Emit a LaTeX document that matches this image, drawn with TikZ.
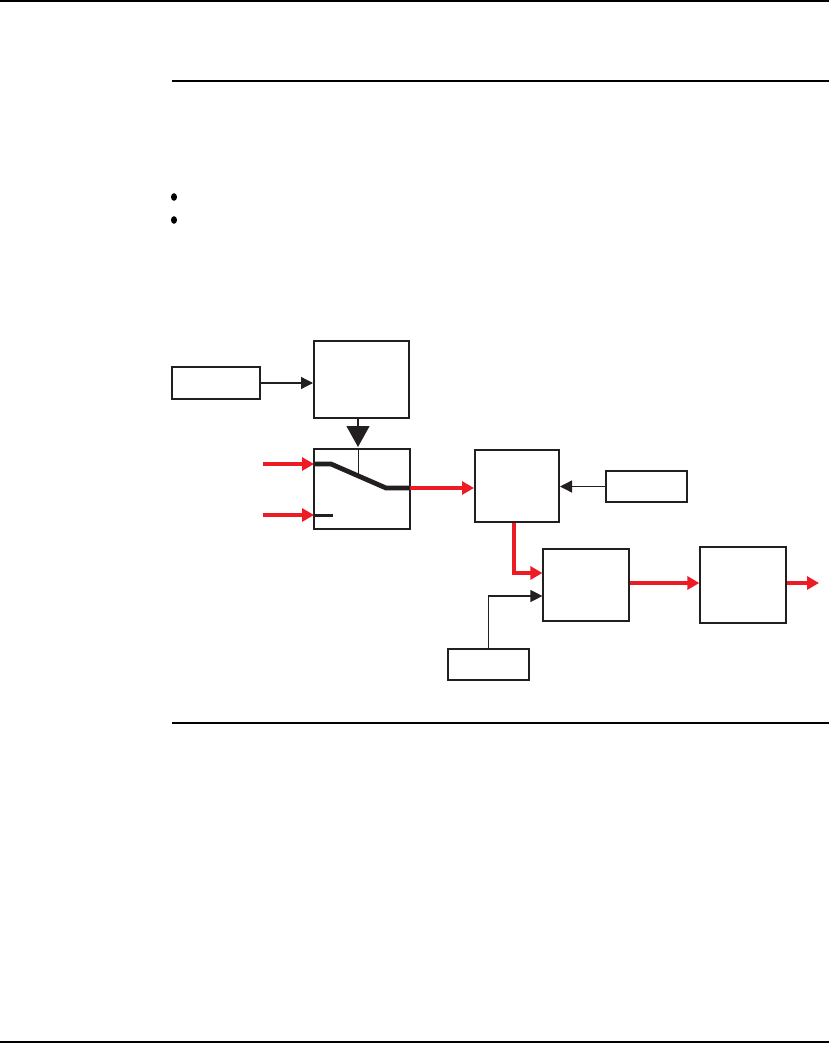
\documentclass[tikz,border=0pt]{standalone}
\usepackage{xcolor}
\usepackage{tikz}
\usetikzlibrary{arrows.meta}
\definecolor{inkblack}{HTML}{231F20}
\definecolor{signalred}{HTML}{ED1C24}

\begin{document}
\begin{tikzpicture}[x=1pt,y=-1pt,
    blockbox/.style={draw=inkblack, line width=2pt, inner sep=0pt},
    thinbox/.style={draw=inkblack, line width=1.2pt, inner sep=0pt},
    redflow/.style={draw=signalred, line width=3.8pt, -{Triangle[length=12pt,width=13pt]}},
    blackflow/.style={draw=inkblack, line width=1.3pt, -{Triangle[length=12pt,width=12pt]}},
    pageline/.style={draw=black, line width=1.2pt}
  ]
  \useasboundingbox (0,0) rectangle (829,1044);
  \draw[pageline] (0,1) -- (829,1);
  \draw[pageline] (172,81) -- (829,81);
  \draw[pageline] (172,723) -- (829,723);
  \draw[pageline] (0,1042) -- (829,1042);
  \fill (174,197) ellipse (3 and 3.8);
  \fill (174,220) ellipse (3 and 3.8);

  \node[blockbox, minimum width=88pt, minimum height=32pt] (setpt) at (216,383) {};
  \node[blockbox, minimum width=95pt, minimum height=77pt] (logic) at (361.5,379.5) {};
  \node[thinbox, minimum width=96pt, minimum height=80pt] (switch) at (362,489) {};
  \node[blockbox, minimum width=84pt, minimum height=72pt] (ctrl) at (517,486) {};
  \node[blockbox, minimum width=81pt, minimum height=31pt] (param) at (646.5,486.5) {};
  \node[thinbox, minimum width=86pt, minimum height=72pt] (limit) at (586,585) {};
  \node[blockbox, minimum width=81pt, minimum height=31pt] (bias) at (488.5,664.5) {};
  \node[thinbox, minimum width=86pt, minimum height=76pt] (output) at (743,585) {};

  \coordinate (inA) at (263,464);
  \coordinate (inB) at (263,515);
  \coordinate (contA) at (314,464);
  \coordinate (bendA) at (331,464);
  \coordinate (bendB) at (386,488);
  \coordinate (contC) at (410,488);
  \coordinate (contB) at (314,515);
  \coordinate (tipB) at (333,515);
  \coordinate (lever) at (358,476);
  \coordinate (out) at (819,583);

  \draw[blackflow] (setpt.east) -- (setpt.east -| logic.west);
  \draw[draw=inkblack, line width=1.2pt, -{Triangle[length=21pt,width=23pt]}] (358,419) -- (358,447);
  \draw[inkblack, line width=1pt] (358,449) -- (lever);
  \draw[inkblack, line width=4.8pt] (contA) -- (bendA) -- (bendB) -- (contC);
  \draw[inkblack, line width=3pt] (contB) -- (tipB);

  \draw[redflow] (inA) -- (contA);
  \draw[redflow] (inB) -- (contB);
  \draw[redflow] (contC) -- (contC -| ctrl.west);
  \draw[blackflow] (param.west) -- (param.west -| ctrl.east);
  \draw[redflow] (ctrl.south -| 514,0) |- ([yshift=12pt]limit.west);
  \draw[blackflow] (bias.north) |- ([yshift=-11pt]limit.west);
  \draw[redflow] ([yshift=2pt]limit.east) -- ([yshift=2pt]output.west);
  \draw[redflow] ([yshift=2pt]output.east) -- (out);
\end{tikzpicture}
\end{document}
